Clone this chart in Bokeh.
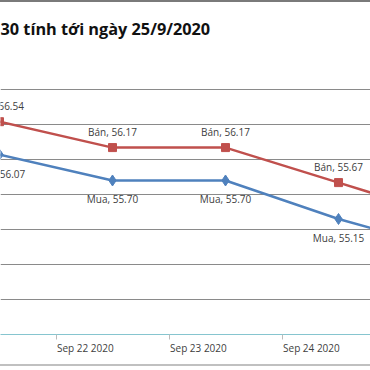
from bokeh.plotting import figure
from bokeh.models import ColumnDataSource, FixedTicker, LabelSet, Range1d
from bokeh.core.properties import value
from bokeh.embed import file_html
from bokeh.resources import INLINE

dates = ["Sep 21 2020", "Sep 22 2020", "Sep 23 2020", "Sep 24 2020", "Sep 25 2020"]
ban = [56.54, 56.17, 56.17, 55.67, 55.17]
mua = [56.07, 55.70, 55.70, 55.15, 54.70]
y_grid = [53.5, 54.0, 54.5, 55.0, 55.5, 56.0, 56.5, 57.0]
title_text = "30 tính tới ngày 25/9/2020"

x = list(range(len(dates)))
src = ColumnDataSource(dict(
    x=x, ban=ban, mua=mua,
    ban_lbl=["Bán, %.2f" % v for v in ban],
    mua_lbl=["Mua, %.2f" % v for v in mua],
))

p = figure(width=370, height=366, output_backend="svg", toolbar_location=None,
           x_range=Range1d(0.0088, 3.283), y_range=Range1d(53.5, 57.657),
           min_border_left=0, min_border_right=0, min_border_bottom=34,
           min_border_top=41,
           styles={"border-top": "2px solid #7a7a7a",
                   "border-bottom": "2px solid #c0c0c0"})
p.title.text = title_text
p.title.align = "left"
p.title.text_font = "Open Sans"
p.title.text_font_size = "16.3px"
p.title.text_font_style = "bold"
p.title.text_color = "#111111"
p.title.offset = 0
p.title.standoff = 8

p.outline_line_color = None
p.yaxis.visible = False
p.xgrid.visible = False
p.ygrid.ticker = FixedTicker(ticks=y_grid[1:])
p.ygrid.grid_line_color = "#8a8a8a"
p.ygrid.grid_line_width = 1

ax = p.xaxis[0]
# date labels sit between the category boundaries (boundary ticks are minor ticks)
label_pos = [i + 0.76 for i in range(len(dates) - 1)]
bound_pos = [i + 0.5 for i in range(len(dates) - 1)]
ax.ticker = FixedTicker(ticks=label_pos, minor_ticks=bound_pos)
ax.major_label_overrides = {t: dates[i + 1] for i, t in enumerate(label_pos)}
ax.major_label_text_font = "Open Sans"
ax.major_label_text_font_size = "10px"
ax.major_label_text_color = "#404040"
ax.axis_line_color = "#86c5cf"
ax.axis_line_width = 1
ax.major_tick_line_color = None
ax.major_tick_out = 0
ax.major_tick_in = 0
ax.minor_tick_line_color = "#bbbbbb"
ax.minor_tick_out = 5
ax.minor_tick_in = 0
ax.major_label_standoff = 1
ax.axis_label_standoff = 0

red = "#C0504D"
blue = "#4F81BD"
p.line("x", "ban", source=src, line_color=red, line_width=2.5)
p.scatter("x", "ban", source=src, marker="square", size=8, fill_color=red, line_color=red)
p.line("x", "mua", source=src, line_color=blue, line_width=2.5)
p.scatter("x", "mua", source=src, marker="diamond", size=11, fill_color=blue, line_color=blue)

common = dict(source=src, text_align="center", text_baseline="middle",
              text_font=value("Open Sans"), text_font_size=value("10px"),
              text_color=value("#404040"))
p.add_layout(LabelSet(x="x", y="ban", text="ban_lbl", y_offset=16, **common))
p.add_layout(LabelSet(x="x", y="mua", text="mua_lbl", y_offset=-19, **common))

open("out.html", "w").write(file_html(p, INLINE))
